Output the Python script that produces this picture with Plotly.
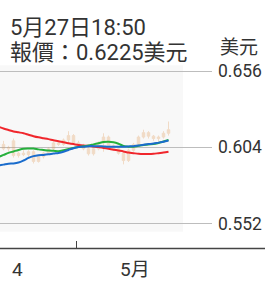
import plotly.graph_objects as go

# Trading days (index used as x position)
dates = ["04-08", "04-09", "04-10", "04-11", "04-12", "04-15", "04-16", "04-17", "04-18",
         "04-19", "04-22", "04-23", "04-24", "04-25", "04-26", "04-29", "04-30",
         "05-01", "05-02", "05-03", "05-06", "05-07", "05-08", "05-09", "05-10",
         "05-13", "05-14", "05-15", "05-16", "05-17", "05-20", "05-21", "05-22",
         "05-23", "05-24", "05-27"]
x_idx = list(range(len(dates)))

opens = [0.6064, 0.6056, 0.6060, 0.6030, 0.6084, 0.5984, 0.6000, 0.5990, 0.6010, 0.5944,
         0.5976, 0.6000, 0.6030, 0.6070, 0.6060, 0.6090, 0.6120, 0.6070, 0.6050, 0.6030,
         0.5996, 0.6030, 0.6070, 0.6110, 0.6050, 0.6030, 0.6000, 0.5950, 0.6020, 0.6060,
         0.6110, 0.6140, 0.6116, 0.6100, 0.6110, 0.6136]
highs = [0.6080, 0.6070, 0.6084, 0.6050, 0.6100, 0.6010, 0.6020, 0.6020, 0.6020, 0.5984,
         0.6010, 0.6040, 0.6080, 0.6084, 0.6100, 0.6150, 0.6130, 0.6084, 0.6064, 0.6056,
         0.6040, 0.6080, 0.6136, 0.6120, 0.6060, 0.6040, 0.6010, 0.6030, 0.6070, 0.6120,
         0.6160, 0.6150, 0.6124, 0.6120, 0.6150, 0.6216]
lows = [0.6050, 0.6040, 0.6020, 0.6010, 0.5970, 0.5970, 0.5980, 0.5970, 0.5930, 0.5936,
        0.5964, 0.5990, 0.6020, 0.6050, 0.6050, 0.6060, 0.6060, 0.6040, 0.6020, 0.5984,
        0.5984, 0.6020, 0.6010, 0.6040, 0.6020, 0.5990, 0.5924, 0.5940, 0.6010, 0.6050,
        0.6100, 0.6100, 0.6084, 0.6080, 0.6100, 0.6120]
closes = [0.6056, 0.6060, 0.6030, 0.6040, 0.5984, 0.6000, 0.5990, 0.6010, 0.5944, 0.5976,
          0.6000, 0.6030, 0.6070, 0.6060, 0.6090, 0.6120, 0.6070, 0.6050, 0.6030, 0.5996,
          0.6030, 0.6070, 0.6110, 0.6050, 0.6030, 0.6000, 0.5950, 0.6020, 0.6060, 0.6110,
          0.6140, 0.6116, 0.6100, 0.6110, 0.6136, 0.6160]

ma_red = [0.6190, 0.6180, 0.6168, 0.6158, 0.6148, 0.6142, 0.6136, 0.6126, 0.6116, 0.6108,
          0.6102, 0.6096, 0.6088, 0.6082, 0.6074, 0.6068, 0.6062, 0.6056, 0.6052, 0.6050,
          0.6046, 0.6042, 0.6036, 0.6030, 0.6024, 0.6018, 0.6012, 0.6004, 0.6000, 0.5996,
          0.5994, 0.5994, 0.5996, 0.6000, 0.6004, 0.6010]
ma_green = [0.5960, 0.5974, 0.5988, 0.6002, 0.6012, 0.6022, 0.6030, 0.6032, 0.6032, 0.6026,
            0.6022, 0.6018, 0.6016, 0.6014, 0.6020, 0.6028, 0.6036, 0.6042, 0.6048, 0.6052,
            0.6060, 0.6068, 0.6076, 0.6078, 0.6074, 0.6064, 0.6050, 0.6044, 0.6044, 0.6050,
            0.6056, 0.6060, 0.6062, 0.6070, 0.6080, 0.6090]
ma_blue = [0.5910, 0.5916, 0.5922, 0.5928, 0.5930, 0.5936, 0.5950, 0.5968, 0.5980, 0.5986,
           0.5988, 0.5992, 0.5998, 0.6002, 0.6010, 0.6022, 0.6034, 0.6042, 0.6044, 0.6048,
           0.6048, 0.6048, 0.6046, 0.6044, 0.6044, 0.6044, 0.6044, 0.6046, 0.6048, 0.6052,
           0.6058, 0.6062, 0.6066, 0.6072, 0.6078, 0.6086]

y_ticks = [0.552, 0.604, 0.656]
y_tick_labels = ["0.552", "0.604", "0.656"]
month_boundary = 16.5
month_label_pos = [4.7, 28.3]
month_labels = ["4", "5月"]

title_line1 = "5月27日18:50"
title_line2 = "報價：0.6225美元"
unit_label = "美元"

W, H = 265, 287
font_main = "Roboto, 'Noto Sans CJK TC', sans-serif"

fig = go.Figure()
fig.add_trace(go.Candlestick(
    x=x_idx, open=opens, high=highs, low=lows, close=closes,
    increasing=dict(line=dict(color="#e39a55", width=1), fillcolor="#e39a55"),
    decreasing=dict(line=dict(color="#e39a55", width=1), fillcolor="#e39a55"),
    opacity=0.3, whiskerwidth=0, showlegend=False, hoverinfo="skip",
))
for vals, col in [(ma_red, "#f0262c"), (ma_green, "#25b03c"), (ma_blue, "#1a6ccc")]:
    fig.add_trace(go.Scatter(x=x_idx, y=vals, mode="lines",
                             line=dict(color=col, width=2, shape="spline"),
                             showlegend=False, hoverinfo="skip"))

fig.update_layout(
    width=W, height=H,
    margin=dict(l=0, r=0, t=0, b=0),
    paper_bgcolor="white", plot_bgcolor="rgba(0,0,0,0)",
    font=dict(family=font_main, color="#333333"),
    xaxis=dict(domain=[0, 212 / W], range=[1.3, 43.7], showgrid=False, zeroline=False,
               showline=False, rangeslider=dict(visible=False),
               tickvals=[month_boundary], ticktext=[""], ticks="inside",
               ticklen=8, tickwidth=1, tickcolor="#444444"),
    yaxis=dict(domain=[1 - 248 / H, 1 - 62 / H], range=[0.53499, 0.66003],
               side="right", tickvals=y_ticks, ticktext=y_tick_labels,
               showgrid=True, gridcolor="#bdbdbd", gridwidth=1.2, zeroline=False,
               showline=False, ticks="", ticklabelstandoff=5,
               tickfont=dict(size=17.5, color="#333333", family=font_main)),
    shapes=[
        dict(type="rect", xref="paper", yref="paper", x0=0, x1=183 / W,
             y0=1 - 231 / H, y1=1 - 62 / H, fillcolor="#f8f8f8", line=dict(width=0),
             layer="below"),
        dict(type="line", xref="paper", yref="paper", x0=0, x1=1,
             y0=1 - 248 / H, y1=1 - 248 / H, line=dict(color="#444444", width=1.5)),
    ],
)

for pos, lab in zip(month_label_pos, month_labels):
    fig.add_annotation(x=pos, y=1 - 269 / H, xref="x", yref="paper", text=lab,
                       showarrow=False, xanchor="center", yanchor="middle",
                       font=dict(size=19, color="#333333", family=font_main))

fig.add_annotation(x=8 / W, y=1 - 24 / H, xref="paper", yref="paper", text=title_line1,
                   showarrow=False, xanchor="left", yanchor="middle",
                   font=dict(size=22, color="#333333", family=font_main))
fig.add_annotation(x=8 / W, y=1 - 49 / H, xref="paper", yref="paper", text=title_line2,
                   showarrow=False, xanchor="left", yanchor="middle",
                   font=dict(size=22, color="#333333", family=font_main))
fig.add_annotation(x=239 / W, y=1 - 44 / H, xref="paper", yref="paper", text=unit_label,
                   showarrow=False, xanchor="center", yanchor="middle",
                   font=dict(size=19, color="#333333", family=font_main))

fig.write_html("out.html", config={"displayModeBar": False},
               post_script="document.body.style.margin='0';document.body.style.padding='0';")
